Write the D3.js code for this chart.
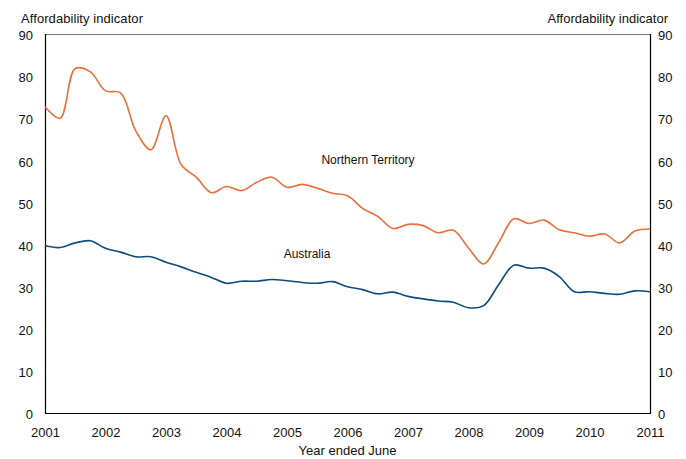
<!DOCTYPE html>
<html><head><meta charset="utf-8">
<script src="https://cdn.jsdelivr.net/npm/d3@7"></script>
<style>body{margin:0;background:#fff}svg{display:block}text{font-family:"Liberation Sans",Arial,sans-serif;fill:#111}</style>
</head><body>
<script>
const years = [2001,2002,2003,2004,2005,2006,2007,2008,2009,2010,2011];
const yTicks = [0,10,20,30,40,50,60,70,80,90];
const northernTerritory = [72.7,70.0,81.8,81.0,76.5,76.0,67.0,62.5,70.6,59.0,56.0,52.3,53.8,52.8,54.8,56.0,53.6,54.3,53.4,52.2,51.6,48.6,46.7,43.8,44.8,44.5,42.8,43.4,39.2,35.4,40.5,46.1,45.0,45.8,43.5,42.8,42.0,42.5,40.4,43.2,43.7];
const australia = [39.7,39.3,40.4,40.9,39.1,38.2,37.1,37.1,35.8,34.7,33.4,32.2,30.8,31.3,31.3,31.7,31.4,31.0,30.8,31.2,30.0,29.3,28.3,28.7,27.7,27.1,26.6,26.3,25.0,25.5,30.5,35.1,34.4,34.4,32.4,28.8,28.8,28.4,28.2,29.0,28.8];
const series = [
  {name:"Northern Territory", values:northernTerritory, color:"#E8703A"},
  {name:"Australia", values:australia, color:"#0E4C7C"}
];

const W=686,H=459, L=45, R=650, T=34, B=413;
const svg=d3.select("body").append("svg").attr("width",W).attr("height",H);
const x=d3.scaleLinear().domain([2001,2011]).range([L,R]);
const y=d3.scaleLinear().domain([0,90]).range([B,T]);

// frame
svg.append("line").attr("x1",L).attr("x2",R).attr("y1",T+0.5).attr("y2",T+0.5).attr("stroke","#777").attr("stroke-width",1);
svg.append("path").attr("d",`M${L+0.5},${T}V${B+0.5}H${R+0.5}V${T}`).attr("fill","none").attr("stroke","#000").attr("stroke-width",1.2);

// axes
const yl=svg.append("g").attr("transform",`translate(${L},1)`).call(d3.axisLeft(y).tickValues(yTicks).tickSize(0).tickPadding(12));
const yr=svg.append("g").attr("transform",`translate(${R},1)`).call(d3.axisRight(y).tickValues(yTicks).tickSize(0).tickPadding(8));
const xa=svg.append("g").attr("transform",`translate(0,${B})`).call(d3.axisBottom(x).tickValues(years).tickFormat(d3.format("d")).tickSize(0).tickPadding(15));
[yl,yr,xa].forEach(g=>{g.select(".domain").remove();g.selectAll("text").attr("font-size",13).attr("font-family","Liberation Sans, Arial, sans-serif").attr("fill","#111");});
yl.selectAll("text").attr("dy","0.36em");
yr.selectAll("text").attr("dy","0.36em");

svg.append("text").attr("x",21).attr("y",23).attr("font-size",13).attr("textLength",122).text("Affordability indicator");
svg.append("text").attr("x",668).attr("y",23).attr("font-size",13).attr("text-anchor","end").text("Affordability indicator");
svg.append("text").attr("x",(L+R)/2).attr("y",455).attr("font-size",13).attr("text-anchor","middle").text("Year ended June");

const line=d3.line().x((d,i)=>x(2001+i/4)).y(d=>y(d)).curve(d3.curveCatmullRom.alpha(0.5));
series.forEach(s=>{
  svg.append("path").datum(s.values).attr("d",line).attr("fill","none").attr("stroke",s.color).attr("stroke-width",1.6);
});

svg.append("text").attr("x",368).attr("y",164).attr("font-size",12).attr("text-anchor","middle").text("Northern Territory");
svg.append("text").attr("x",307).attr("y",258).attr("font-size",12).attr("text-anchor","middle").text("Australia");
</script>
</body></html>
